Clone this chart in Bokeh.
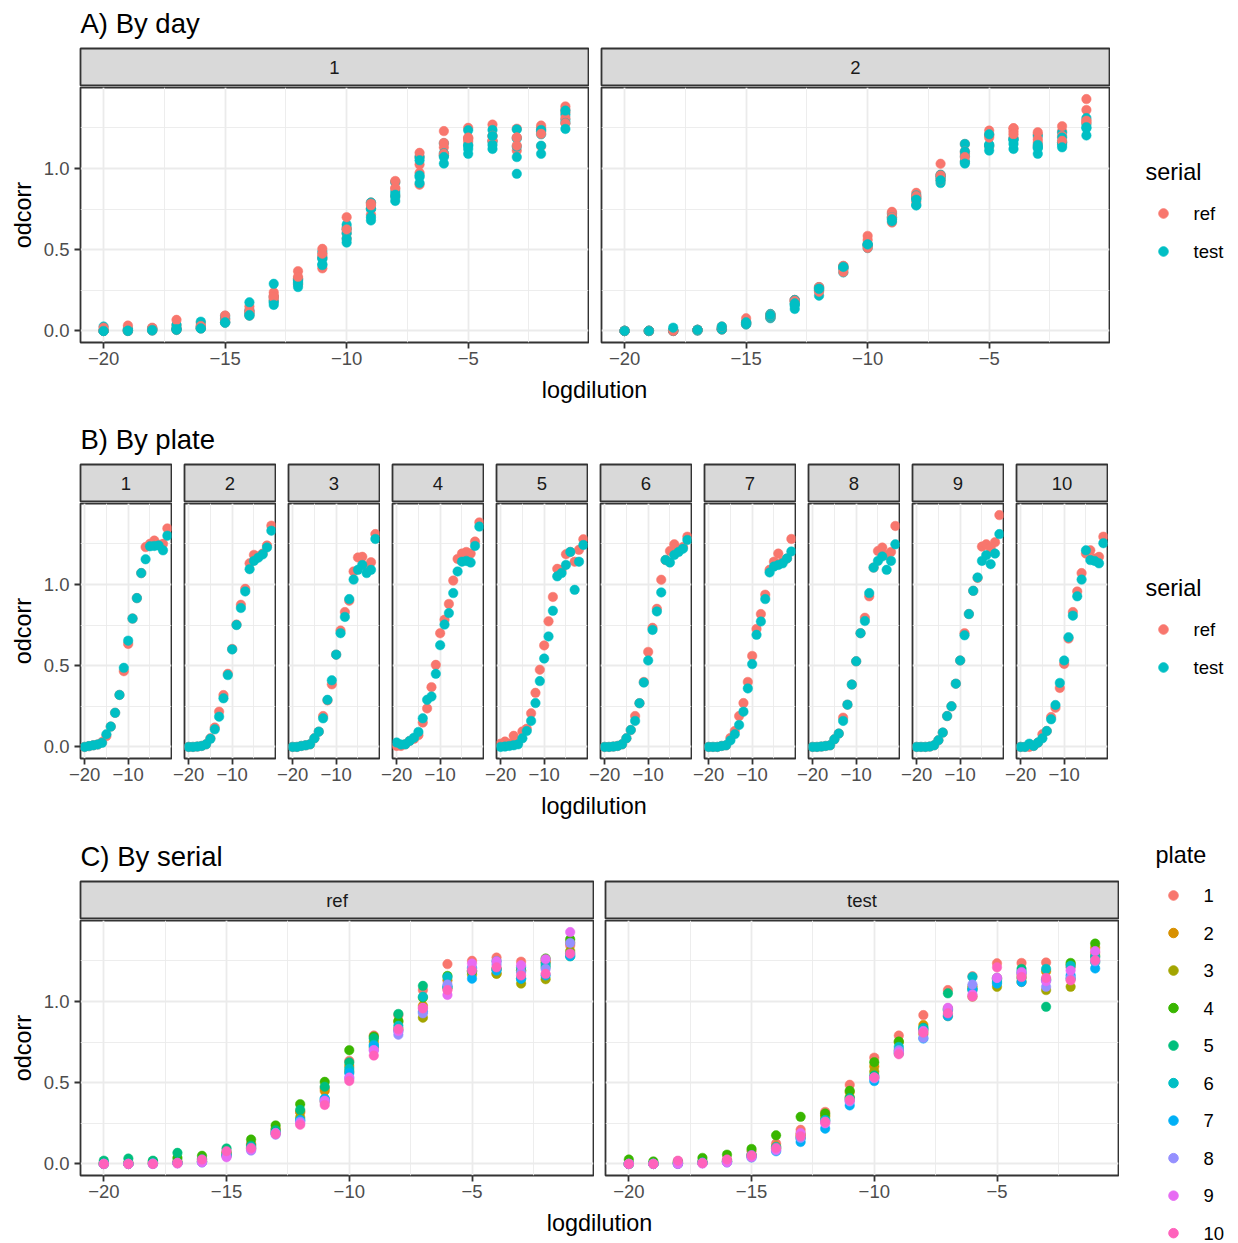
import numpy as np
import pandas as pd
from bokeh.plotting import figure
from bokeh.layouts import row, column
from bokeh.models import Range1d, LinearAxis, Grid, FixedTicker, ColumnDataSource
from bokeh.core.properties import value
from bokeh.embed import file_html
from bokeh.resources import INLINE

# ---------------------------------------------------------------- data
logdilution = list(range(-20, 0))
plates = list(range(1, 11))
day_of_plate = [1, 1, 1, 1, 1, 2, 2, 2, 2, 2]
serials = ["ref", "test"]

ref_plate1 = [0.000, 0.005, 0.010, 0.015, 0.030, 0.067, 0.125, 0.210, 0.320, 0.466, 0.634, 0.790, 0.916, 1.070, 1.230, 1.250, 1.270, 1.245, 1.250, 1.345]
test_plate1 = [0.000, 0.005, 0.010, 0.015, 0.025, 0.078, 0.125, 0.210, 0.320, 0.487, 0.654, 0.790, 0.916, 1.070, 1.155, 1.235, 1.237, 1.240, 1.210, 1.300]
ref_plate2 = [0.000, 0.000, 0.002, 0.006, 0.016, 0.053, 0.119, 0.217, 0.319, 0.450, 0.603, 0.753, 0.875, 0.973, 1.130, 1.182, 1.172, 1.190, 1.240, 1.362]
test_plate2 = [0.000, 0.000, 0.002, 0.006, 0.016, 0.050, 0.108, 0.186, 0.299, 0.442, 0.600, 0.750, 0.855, 0.957, 1.094, 1.145, 1.165, 1.185, 1.228, 1.331]
ref_plate3 = [0.000, 0.000, 0.006, 0.010, 0.016, 0.053, 0.094, 0.190, 0.286, 0.385, 0.568, 0.716, 0.830, 0.900, 1.080, 1.166, 1.170, 1.110, 1.137, 1.310]
test_plate3 = [0.000, 0.000, 0.006, 0.010, 0.016, 0.053, 0.094, 0.176, 0.290, 0.410, 0.568, 0.700, 0.800, 0.910, 1.030, 1.090, 1.120, 1.070, 1.090, 1.280]
ref_plate4 = [0.006, 0.006, 0.016, 0.037, 0.050, 0.072, 0.150, 0.237, 0.368, 0.505, 0.700, 0.783, 0.880, 1.024, 1.157, 1.190, 1.200, 1.190, 1.264, 1.382]
test_plate4 = [0.027, 0.015, 0.016, 0.037, 0.057, 0.092, 0.176, 0.290, 0.310, 0.450, 0.626, 0.753, 0.824, 0.947, 1.080, 1.140, 1.145, 1.135, 1.237, 1.356]
ref_plate5 = [0.020, 0.033, 0.020, 0.068, 0.030, 0.095, 0.112, 0.207, 0.333, 0.475, 0.625, 0.773, 0.923, 1.096, 1.090, 1.186, 1.200, 1.140, 1.213, 1.278]
test_plate5 = [0.000, 0.002, 0.006, 0.010, 0.016, 0.053, 0.098, 0.160, 0.270, 0.405, 0.544, 0.680, 0.838, 1.050, 1.070, 1.120, 1.200, 0.967, 1.140, 1.243]
ref_plate6 = [0.000, 0.000, 0.002, 0.006, 0.016, 0.053, 0.104, 0.190, 0.269, 0.400, 0.585, 0.733, 0.850, 1.029, 1.150, 1.206, 1.247, 1.210, 1.230, 1.294]
test_plate6 = [0.000, 0.000, 0.002, 0.006, 0.016, 0.053, 0.104, 0.160, 0.269, 0.396, 0.532, 0.720, 0.834, 0.951, 1.151, 1.135, 1.182, 1.200, 1.220, 1.274]
ref_plate7 = [0.000, 0.000, 0.000, 0.006, 0.010, 0.055, 0.098, 0.190, 0.270, 0.400, 0.560, 0.726, 0.818, 0.937, 1.090, 1.140, 1.190, 1.140, 1.160, 1.280]
test_plate7 = [0.000, 0.000, 0.000, 0.006, 0.010, 0.040, 0.078, 0.135, 0.217, 0.360, 0.510, 0.690, 0.772, 0.910, 1.074, 1.110, 1.120, 1.130, 1.160, 1.203]
ref_plate8 = [0.000, 0.000, 0.002, 0.006, 0.010, 0.047, 0.082, 0.180, 0.260, 0.384, 0.527, 0.700, 0.795, 0.927, 1.104, 1.206, 1.227, 1.180, 1.200, 1.360]
test_plate8 = [0.000, 0.000, 0.002, 0.006, 0.010, 0.047, 0.082, 0.160, 0.260, 0.384, 0.527, 0.700, 0.775, 0.947, 1.104, 1.145, 1.172, 1.090, 1.145, 1.247]
ref_plate9 = [0.000, 0.000, 0.000, 0.002, 0.010, 0.041, 0.088, 0.190, 0.250, 0.389, 0.532, 0.700, 0.818, 0.961, 1.040, 1.233, 1.247, 1.223, 1.260, 1.427]
test_plate9 = [0.000, 0.000, 0.000, 0.002, 0.010, 0.041, 0.088, 0.190, 0.250, 0.389, 0.532, 0.687, 0.818, 0.961, 1.043, 1.145, 1.180, 1.125, 1.190, 1.310]
ref_plate10 = [0.000, 0.000, 0.000, 0.006, 0.027, 0.078, 0.098, 0.184, 0.241, 0.363, 0.511, 0.667, 0.830, 0.957, 1.070, 1.190, 1.210, 1.160, 1.170, 1.294]
test_plate10 = [0.000, 0.000, 0.020, 0.006, 0.027, 0.053, 0.098, 0.170, 0.258, 0.394, 0.532, 0.675, 0.808, 0.927, 1.030, 1.210, 1.150, 1.145, 1.130, 1.254]

ref_by_plate = [ref_plate1, ref_plate2, ref_plate3, ref_plate4, ref_plate5,
                ref_plate6, ref_plate7, ref_plate8, ref_plate9, ref_plate10]
test_by_plate = [test_plate1, test_plate2, test_plate3, test_plate4, test_plate5,
                 test_plate6, test_plate7, test_plate8, test_plate9, test_plate10]

serial_colors = {"ref": "#F8766D", "test": "#00BFC4"}
plate_colors = ["#F8766D", "#D89000", "#A3A500", "#39B600", "#00BF7D",
                "#00BFC4", "#00B0F6", "#9590FF", "#E76BF3", "#FF62BC"]

records = []
for k, plate in enumerate(plates):
    for serial, values in (("ref", ref_by_plate[k]), ("test", test_by_plate[k])):
        for d, v in zip(logdilution, values):
            records.append(dict(plate=plate, day=day_of_plate[k], serial=serial,
                                logdilution=d, odcorr=v))
df = pd.DataFrame(records)
df["serial_color"] = df["serial"].map(serial_colors)
df["plate_color"] = df["plate"].map(lambda p: plate_colors[p - 1])

# ---------------------------------------------------------------- styling
FONT = "Liberation Sans"
TICK_PX = "18.5px"
TITLE_PX = "23.4px"
HEAD_PX = "27.5px"
GRID = "#EBEBEB"
DARK = "#333333"
LINE_W = 1.8
PT_SIZE = 9.5

STRIP_H = 39
PANEL_H = 255
TICK_BAND = 30
PANEL_FIG_H = 1 + PANEL_H + TICK_BAND
SEC_H = STRIP_H + PANEL_FIG_H
MAIN_W = 1119
TOTAL_W = 1238

# vertical placement of the three sections on the page
SEC_TOPS = [47, 463, 880]


def padded(lo, hi, frac=0.05):
    span = hi - lo
    return lo - frac * span, hi + frac * span


X_RANGE = padded(min(logdilution), max(logdilution))
Y_RANGE = padded(df["odcorr"].min(), df["odcorr"].max())

minus = "\u2212"
y_ticks = [0.0, 0.5, 1.0]
y_minor = [0.25, 0.75, 1.25]
y_labels = {0: "0.0", 0.5: "0.5", 1: "1.0"}


def base_fig(width, height, xr, yr, **borders):
    f = figure(width=width, height=height, x_range=Range1d(*xr), y_range=Range1d(*yr),
               x_axis_type=None, y_axis_type=None, toolbar_location=None,
               output_backend="svg", **borders)
    f.background_fill_color = "white"
    f.border_fill_color = "white"
    f.outline_line_color = None
    return f


def style_axis(ax, standoff):
    ax.axis_line_color = None
    ax.major_tick_line_color = DARK
    ax.major_tick_line_width = LINE_W
    ax.major_tick_out = 6
    ax.major_tick_in = 0
    ax.minor_tick_line_color = None
    ax.major_label_text_font = FONT
    ax.major_label_text_font_size = TICK_PX
    ax.major_label_text_color = "#4D4D4D"
    ax.major_label_standoff = standoff


def strip_fig(frame_w, left, label):
    s = base_fig(left + frame_w + 1, STRIP_H, (0, 1), (0, 1),
                 min_border_left=left, min_border_right=1,
                 min_border_top=1, min_border_bottom=0)
    s.background_fill_color = "#D9D9D9"
    s.outline_line_color = DARK
    s.outline_line_width = LINE_W
    s.text(x=[0.5], y=[0.5], text=[label], text_align="center", text_baseline="middle",
           text_font=value(FONT), text_font_size=TICK_PX, text_color="#1A1A1A")
    return s


def panel_fig(frame_w, left, show_y, x_ticks, x_minor, data, color_col):
    p = base_fig(left + frame_w + 1, PANEL_FIG_H, X_RANGE, Y_RANGE,
                 min_border_left=left, min_border_right=1,
                 min_border_top=1, min_border_bottom=TICK_BAND)
    p.outline_line_color = DARK
    p.outline_line_width = LINE_W

    xt = FixedTicker(ticks=x_ticks, minor_ticks=x_minor)
    yt = FixedTicker(ticks=y_ticks, minor_ticks=y_minor)
    for dim, tk in ((0, xt), (1, yt)):
        p.add_layout(Grid(dimension=dim, ticker=tk, grid_line_color=GRID,
                          grid_line_width=LINE_W, minor_grid_line_color=GRID,
                          minor_grid_line_width=0.9))

    xaxis = LinearAxis(ticker=xt, major_label_overrides={t: f"{minus}{abs(t)}" for t in x_ticks})
    style_axis(xaxis, 3)
    p.add_layout(xaxis, "below")
    if show_y:
        yaxis = LinearAxis(ticker=yt, major_label_overrides=y_labels)
        style_axis(yaxis, 5)
        p.add_layout(yaxis, "left")

    src = ColumnDataSource(dict(x=data["logdilution"].tolist(), y=data["odcorr"].tolist(),
                                c=data[color_col].tolist()))
    p.scatter("x", "y", source=src, size=PT_SIZE, fill_color="c", line_color="c",
              line_width=0.5, marker="circle")
    return p


def ylab_fig():
    f = base_fig(40, SEC_H, (0, 40), (SEC_H, 0), min_border=0)
    f.text(x=[22], y=[STRIP_H + 1 + PANEL_H / 2], text=["odcorr"], angle=np.pi / 2,
           text_align="center", text_baseline="middle",
           text_font=value(FONT), text_font_size=TITLE_PX, text_color="black")
    return f


def band_fig(top, bottom, texts):
    """Full-width band of the page holding section titles and shared x labels."""
    f = base_fig(MAIN_W, bottom - top, (0, MAIN_W), (bottom, top), min_border=0)
    for txt, x, y, size, align in texts:
        f.text(x=[x], y=[y], text=[txt], text_align=align, text_baseline="alphabetic",
               text_font=value(FONT), text_font_size=size, text_color="black")
    return f


def section(facets, frame_ws, lefts, x_ticks, x_minor, color_col):
    cols = []
    for i, (label, data) in enumerate(facets):
        cols.append(column(
            strip_fig(frame_ws[i], lefts[i], label),
            panel_fig(frame_ws[i], lefts[i], i == 0, x_ticks, x_minor, data, color_col),
            spacing=0))
    return row(ylab_fig(), *cols, spacing=0)


def legend_fig(top, bottom, title, title_xy, labels, colors, key_x, key_y0, key_step, label_x):
    f = base_fig(TOTAL_W - MAIN_W, bottom - top, (MAIN_W, TOTAL_W), (bottom, top), min_border=0)
    f.text(x=[title_xy[0]], y=[title_xy[1]], text=[title], text_align="left",
           text_baseline="alphabetic", text_font=value(FONT), text_font_size=TITLE_PX,
           text_color="black")
    ys = [key_y0 + i * key_step for i in range(len(labels))]
    f.scatter([key_x] * len(labels), ys, size=PT_SIZE, fill_color=colors, line_color=colors,
              marker="circle")
    f.text(x=[label_x] * len(labels), y=ys, text=labels, text_align="left",
           text_baseline="middle", text_font=value(FONT), text_font_size=TICK_PX,
           text_color="black")
    return f


ticks_wide = [-20, -15, -10, -5]
minor_wide = [-17.5, -12.5, -7.5, -2.5]
ticks_narrow = [-20, -10]
minor_narrow = [-15, -5]

# A) by day
facets_a = [(str(d), df[df["day"] == d]) for d in (1, 2)]
sec_a = section(facets_a, [508, 508], [40, 12], ticks_wide, minor_wide, "serial_color")

# B) by plate
facets_b = [(str(p), df[df["plate"] == p]) for p in plates]
sec_b = section(facets_b, [91] * 10, [40] + [12] * 9, ticks_narrow, minor_narrow, "serial_color")

# C) by serial
facets_c = [(s, df[df["serial"] == s]) for s in serials]
sec_c = section(facets_c, [513, 513], [40, 11], ticks_wide, minor_wide, "plate_color")

sec_bottoms = [t + SEC_H for t in SEC_TOPS]
panel_bottoms = [t + STRIP_H + 1 + PANEL_H for t in SEC_TOPS]
XLAB_DROP = 47      # baseline of the shared x label below the panel bottom
HEAD_RISE = 24      # baseline of a section title above its strip

head_a = band_fig(0, SEC_TOPS[0],
                  [("A) By day", 80, SEC_TOPS[0] - HEAD_RISE, HEAD_PX, "left")])
gap_ab = band_fig(sec_bottoms[0], SEC_TOPS[1],
                  [("logdilution", 594, panel_bottoms[0] + XLAB_DROP, TITLE_PX, "center"),
                   ("B) By plate", 80, SEC_TOPS[1] - HEAD_RISE, HEAD_PX, "left")])
gap_bc = band_fig(sec_bottoms[1], SEC_TOPS[2],
                  [("logdilution", 593.5, panel_bottoms[1] + XLAB_DROP, TITLE_PX, "center"),
                   ("C) By serial", 80, SEC_TOPS[2] - HEAD_RISE, HEAD_PX, "left")])
foot_c = band_fig(sec_bottoms[2], 1243,
                  [("logdilution", 599, panel_bottoms[2] + XLAB_DROP, TITLE_PX, "center")])

main = column(head_a, sec_a, gap_ab, sec_b, gap_bc, sec_c, foot_c, spacing=0)

leg_a = legend_fig(0, 430, "serial", (1145, 171), serials,
                   [serial_colors[s] for s in serials], 1163, 213, 38, 1193)
leg_b = legend_fig(430, 800, "serial", (1145, 587), serials,
                   [serial_colors[s] for s in serials], 1163, 629, 38, 1193)
leg_c = legend_fig(800, 1243, "plate", (1155, 854), [str(p) for p in plates],
                   plate_colors, 1173, 895, 37.52, 1203)
side = column(leg_a, leg_b, leg_c, spacing=0)

layout = row(main, side, spacing=0)

open("out.html", "w").write(file_html(layout, INLINE))
